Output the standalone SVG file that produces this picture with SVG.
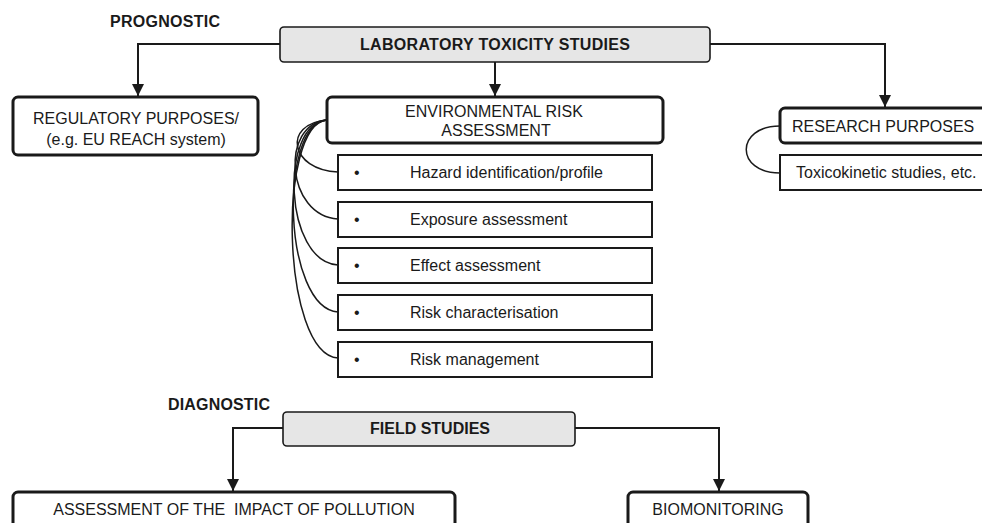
<svg xmlns="http://www.w3.org/2000/svg" width="982" height="523" viewBox="0 0 982 523">
<style>
text{font-family:"Liberation Sans",Arial,sans-serif;font-size:16px;fill:#1a1a1a}
.b{font-weight:bold}
.c{text-anchor:middle}
.gray{fill:#e6e6e6;stroke:#1a1a1a;stroke-width:1.6}
.thick{fill:#fff;stroke:#1a1a1a;stroke-width:3}
.sub{fill:#fff;stroke:#1a1a1a;stroke-width:2}
.conn{fill:none;stroke:#1a1a1a;stroke-width:2}
.curve{fill:none;stroke:#1a1a1a;stroke-width:1.5}
</style>
<defs>
<marker id="arr" viewBox="0 0 10 10" refX="10" refY="5" markerWidth="6" markerHeight="6" orient="auto" markerUnits="strokeWidth">
<path d="M0,0 L10,5 L0,10 z" fill="#1a1a1a"/>
</marker>
</defs>
<text class="b" x="110" y="27" textLength="110">PROGNOSTIC</text>
<text class="b" x="168" y="410" textLength="102">DIAGNOSTIC</text>
<g id="connectors">
<path class="conn" d="M280,44 H138 V96" marker-end="url(#arr)"/>
<path class="conn" d="M495,62 V96" marker-end="url(#arr)"/>
<path class="conn" d="M710,44 H885 V107" marker-end="url(#arr)"/>
<path class="conn" d="M283,428 H233 V491" marker-end="url(#arr)"/>
<path class="conn" d="M575,428 H719 V491" marker-end="url(#arr)"/>
<path class="curve" d="M327,120 C282,124 290,170 338,172"/>
<path class="curve" d="M327,120 C280,124 286,216 338,219"/>
<path class="curve" d="M327,120 C279,124 284,262 338,265"/>
<path class="curve" d="M327,120 C278,124 283,308 338,312"/>
<path class="curve" d="M327,120 C277,124 281,354 338,358"/>
<path class="curve" d="M780,126 C735,126 735,173 780,173"/>
</g>
<g id="lab">
<rect class="gray" x="280" y="27" width="430" height="35" rx="4"/>
<text class="b c" x="495" y="50" textLength="270">LABORATORY TOXICITY STUDIES</text>
</g>
<g id="regulatory">
<rect class="thick" x="13" y="97" width="245" height="58" rx="5"/>
<text class="c" x="136" y="124">REGULATORY PURPOSES/</text>
<text class="c" x="136" y="145">(e.g. EU REACH system)</text>
</g>
<g id="era">
<rect class="thick" x="327" y="97" width="336" height="46" rx="5"/>
<text class="c" x="494" y="117">ENVIRONMENTAL RISK</text>
<text class="c" x="496" y="136">ASSESSMENT</text>
</g>
<g id="hazard">
<rect class="sub" x="338" y="155" width="314" height="35"/>
<text x="354" y="178">•</text>
<text x="410" y="178">Hazard identification/profile</text>
</g>
<g id="exposure">
<rect class="sub" x="338" y="202" width="314" height="35"/>
<text x="354" y="225">•</text>
<text x="410" y="225">Exposure assessment</text>
</g>
<g id="effect">
<rect class="sub" x="338" y="248" width="314" height="35"/>
<text x="354" y="271">•</text>
<text x="410" y="271">Effect assessment</text>
</g>
<g id="riskchar">
<rect class="sub" x="338" y="295" width="314" height="35"/>
<text x="354" y="318">•</text>
<text x="410" y="318">Risk characterisation</text>
</g>
<g id="riskman">
<rect class="sub" x="338" y="342" width="314" height="35"/>
<text x="354" y="365">•</text>
<text x="410" y="365">Risk management</text>
</g>
<g id="research">
<rect class="thick" x="780" y="108" width="215" height="35" rx="5"/>
<text x="792" y="132">RESEARCH PURPOSES</text>
</g>
<g id="toxicokinetic">
<rect class="sub" x="780" y="155" width="215" height="35"/>
<text x="796" y="178">Toxicokinetic studies, etc.</text>
</g>
<g id="field">
<rect class="gray" x="283" y="412" width="292" height="34" rx="4"/>
<text class="b c" x="430" y="434">FIELD STUDIES</text>
</g>
<g id="impact">
<rect class="thick" x="13" y="492" width="442" height="45" rx="5"/>
<text class="c" x="234" y="515" style="white-space:pre">ASSESSMENT OF THE  IMPACT OF POLLUTION</text>
</g>
<g id="biomonitoring">
<rect class="thick" x="628" y="492" width="180" height="45" rx="5"/>
<text class="c" x="718" y="515">BIOMONITORING</text>
</g>
</svg>
